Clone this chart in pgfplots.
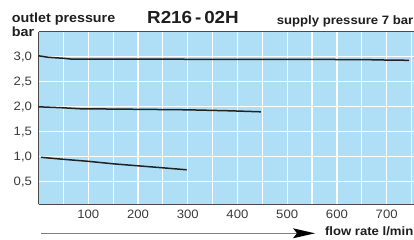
\documentclass[border=0pt]{standalone}
\usepackage{pgfplots}
\pgfplotsset{compat=1.18}
\usepackage{fontspec}
\setmainfont{Liberation Sans}[FakeStretch=1.08]
\definecolor{bgblue}{HTML}{AEDFF7}
\definecolor{axgray}{HTML}{4A4A4A}
\definecolor{curve}{HTML}{222222}
\definecolor{txt}{HTML}{1E1E1E}
\definecolor{ticktxt}{HTML}{3A3A3A}
\begin{document}
\begin{tikzpicture}[x=1bp,y=1bp]
\path[use as bounding box] (0,0) rectangle (414,-240);
\begin{axis}[
  at={(38.5bp,-204.3bp)}, anchor=south west,
  scale only axis,
  width=378bp, height=172.5bp,
  xmin=0, xmax=760, ymin=0.05, ymax=3.5,
  axis background/.style={fill=bgblue},
  axis x line*=bottom, axis y line*=left,
  axis line style={draw=axgray, line width=1.3bp, -},
  xtick={100,200,...,700},
  minor xtick={50,150,...,750},
  ytick={0.5,1.0,...,3.0},
  major tick length=0pt, minor tick length=0pt,
  grid=both,
  major grid style={draw=white, line width=1.2bp},
  minor grid style={draw=white, line width=1.2bp},
  tick label style={font=\fontsize{12.2}{14}\selectfont, text=ticktxt},
  /pgf/number format/assume math mode=true,
  yticklabel={\pgfmathprintnumber[use comma,fixed,fixed zerofill,precision=1]{\tick}},
  yticklabel style={xshift=-3bp},
  xticklabel style={yshift=-2bp},
  clip=false,
]
\addplot[curve, line width=1.5bp] coordinates {
 (0,3.02) (20,2.99) (50,2.97) (65,2.955) (200,2.952) (400,2.95) (650,2.945) (700,2.935) (745,2.93)};
\addplot[curve, line width=1.5bp] coordinates {
 (0,2.0) (50,1.98) (85,1.96) (150,1.955) (300,1.94) (385,1.92) (447,1.90)};
\addplot[curve, line width=1.5bp] coordinates {
 (5,0.99) (50,0.95) (100,0.91) (150,0.86) (200,0.82) (250,0.78) (298,0.74)};
\end{axis}
% top border
\draw[axgray, line width=1.3bp] (38.5,-31.7) -- (420,-31.7);
% texts
\node[anchor=base west, inner sep=0, text=txt, font=\bfseries\fontsize{13.3}{15}\selectfont] at (11.7,-22.7) {outlet pressure};
\node[anchor=base west, inner sep=0, text=txt, font=\bfseries\fontsize{13.3}{15}\selectfont] at (11.7,-36) {bar};
\node[anchor=base, inner sep=0, text=txt, font=\bfseries\fontsize{17.5}{19}\selectfont] at (193,-23.3) {R216\,-\,02H};
\node[anchor=base east, inner sep=0, text=txt, font=\bfseries\fontsize{12.2}{14}\selectfont] at (413.5,-24.3) {supply pressure 7 bar};
\node[anchor=base east, inner sep=0, text=txt, font=\bfseries\fontsize{12.2}{14}\selectfont] at (413.5,-235.5) {flow rate l/min};
% arrow
\draw[gray, line width=1.3bp] (41,-233.3) -- (300,-233.3);
\fill[black] (293,-228.3) -- (315,-233.3) -- (293,-238.3) -- (297,-233.3) -- cycle;
\end{tikzpicture}
\end{document}
